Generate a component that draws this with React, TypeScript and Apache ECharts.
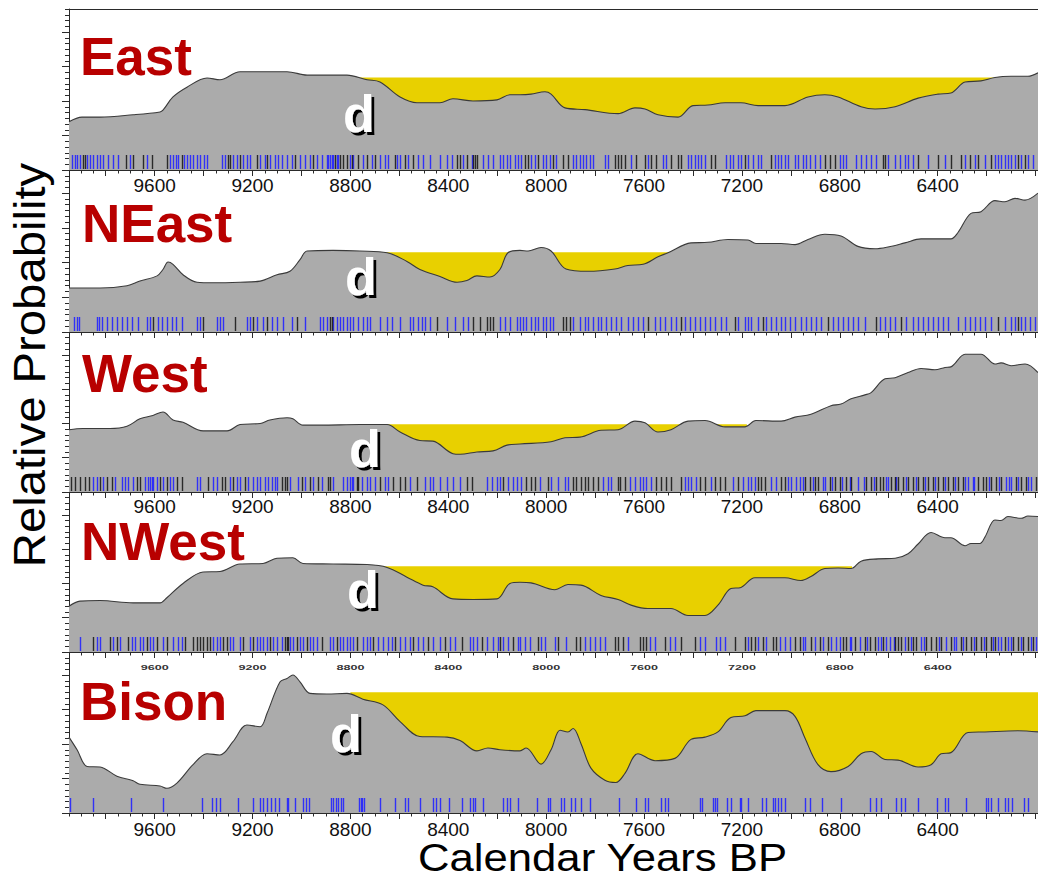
import React, { useEffect, useRef } from "react";
import * as echarts from "echarts";

const FONT = '"Liberation Sans", Arial, Helvetica, sans-serif';

// ---------- axis ranges & tick labels ----------
const YEAR_MIN = 5990;
const YEAR_MAX = 9950;
const Y_MAX = 28;
const xLabelYears = [9600, 9200, 8800, 8400, 8000, 7600, 7200, 6800, 6400];
const yMajorTicks = [0, 6, 12, 18, 24];

// ---------- panel names ----------
const panelNames = ["East", "NEast", "West", "NWest", "Bison"];

// ---------- summed probability curves [year BP, relative probability] ----------
const eastCurve = [
  [9950, 8.4], [9897, 9.2], [9823, 9.2], [9688, 9.6], [9578, 10.1], [9566, 10.4], [9525, 12.7],
  [9468, 14.4], [9386, 16.0], [9333, 15.7], [9251, 17.1], [9059, 17.1], [8977, 16.5], [8814, 16.5],
  [8732, 15.7], [8679, 15.3], [8597, 12.7], [8528, 11.7], [8434, 11.7], [8381, 12.4], [8299, 12.0],
  [8201, 12.2], [8148, 13.1], [8107, 13.1], [8062, 13.2], [8005, 13.6], [7980, 13.2], [7923, 10.8],
  [7841, 10.5], [7706, 9.8], [7637, 10.8], [7596, 10.6], [7543, 9.6], [7461, 9.2], [7400, 11.2],
  [7339, 11.3], [7269, 11.7], [7204, 11.7], [7134, 11.2], [7024, 11.2], [6930, 12.7], [6861, 13.1],
  [6807, 12.7], [6713, 11.0], [6656, 10.6], [6574, 11.0], [6480, 12.5], [6399, 13.2], [6346, 13.4],
  [6288, 15.3], [6223, 15.5], [6166, 16.1], [6100, 16.3], [6031, 16.3], [5990, 16.9],
];
const neastCurve = [
  [9950, 7.6], [9823, 7.6], [9713, 8.0], [9660, 8.8], [9590, 9.7], [9566, 10.8], [9545, 12.1],
  [9525, 11.7], [9484, 9.9], [9427, 8.6], [9362, 8.5], [9251, 8.6], [9169, 8.8], [9100, 9.9],
  [9047, 10.5], [9006, 12.5], [8977, 14.0], [8871, 14.1], [8761, 14.0], [8650, 13.7], [8569, 12.2],
  [8516, 10.8], [8434, 9.6], [8364, 8.6], [8324, 8.9], [8283, 9.7], [8230, 9.5], [8189, 10.8],
  [8156, 13.7], [8107, 14.1], [8074, 14.0], [8021, 14.6], [7980, 14.0], [7919, 10.9], [7829, 10.5],
  [7719, 10.9], [7666, 11.5], [7604, 11.7], [7543, 13.0], [7502, 13.7], [7408, 15.4], [7339, 15.5],
  [7257, 16.0], [7175, 15.9], [7143, 15.3], [7040, 15.3], [6983, 15.1], [6930, 16.0], [6861, 16.9],
  [6795, 16.6], [6726, 14.8], [6656, 14.4], [6603, 14.7], [6534, 15.4], [6468, 16.1], [6346, 16.1],
  [6317, 17.2], [6264, 20.5], [6223, 20.8], [6166, 22.7], [6125, 22.5], [6084, 23.1], [6043, 22.8],
  [5990, 24.0],
];
const westCurve = [
  [9950, 10.9], [9893, 11.1], [9782, 11.1], [9713, 11.5], [9660, 12.8], [9607, 13.4], [9566, 14.0],
  [9525, 12.6], [9484, 12.2], [9402, 10.7], [9304, 10.7], [9251, 11.8], [9169, 12.0], [9129, 12.6],
  [9059, 13.0], [9035, 12.8], [8994, 11.7], [8924, 11.7], [8761, 11.8], [8650, 11.8], [8597, 10.5],
  [8516, 9.0], [8463, 8.9], [8381, 6.7], [8352, 6.6], [8283, 7.0], [8217, 7.2], [8160, 8.2],
  [8107, 8.4], [7980, 8.8], [7923, 9.5], [7862, 9.6], [7776, 10.8], [7706, 10.9], [7637, 12.4],
  [7596, 12.1], [7543, 10.5], [7490, 10.9], [7420, 12.4], [7351, 12.5], [7269, 11.4], [7187, 11.4],
  [7143, 12.5], [7040, 12.4], [6983, 13.1], [6918, 13.6], [6836, 15.1], [6795, 15.4], [6754, 16.3],
  [6697, 17.0], [6672, 17.4], [6615, 19.8], [6574, 20.0], [6521, 20.9], [6468, 21.6], [6411, 21.4],
  [6370, 21.8], [6346, 21.9], [6288, 24.1], [6223, 24.1], [6166, 22.4], [6141, 22.6], [6100, 22.1],
  [6043, 22.4], [5990, 20.9],
];
const nwestCurve = [
  [9950, 8.0], [9905, 8.9], [9823, 9.0], [9688, 8.6], [9578, 8.6], [9550, 9.5], [9484, 12.0],
  [9402, 14.0], [9333, 14.1], [9251, 15.4], [9157, 15.5], [9100, 16.4], [9035, 16.5], [8994, 15.5],
  [8871, 15.4], [8732, 15.3], [8650, 14.8], [8569, 13.1], [8503, 11.7], [8463, 11.4], [8381, 9.3],
  [8299, 9.2], [8201, 9.3], [8148, 12.0], [8107, 12.2], [8062, 12.1], [7964, 10.9], [7911, 11.8],
  [7858, 11.7], [7776, 9.9], [7706, 9.2], [7653, 8.2], [7584, 7.6], [7490, 7.6], [7420, 6.4],
  [7351, 6.4], [7298, 8.2], [7245, 11.1], [7204, 11.3], [7147, 13.0], [7024, 13.0], [6959, 12.5],
  [6918, 13.2], [6861, 14.6], [6807, 14.7], [6754, 14.6], [6713, 15.9], [6644, 16.3], [6574, 16.4],
  [6521, 17.2], [6480, 18.9], [6427, 20.9], [6370, 20.0], [6346, 20.0], [6288, 18.6], [6264, 19.0],
  [6227, 19.0], [6207, 20.1], [6166, 23.1], [6141, 23.0], [6113, 23.7], [6059, 23.4], [6031, 23.8],
  [5990, 23.7],
];
const bisonCurve = [
  [9950, 13.2], [9917, 11.0], [9876, 8.1], [9823, 8.0], [9754, 6.4], [9688, 5.6], [9660, 5.0],
  [9578, 4.7], [9550, 4.3], [9509, 5.2], [9443, 8.4], [9386, 10.3], [9333, 10.1], [9280, 12.4],
  [9223, 15.3], [9169, 15.0], [9141, 17.3], [9088, 22.8], [9059, 23.4], [9035, 24.0], [9006, 22.8],
  [8965, 20.8], [8896, 20.7], [8814, 20.8], [8749, 19.8], [8667, 18.8], [8597, 15.9], [8516, 13.3],
  [8405, 13.2], [8352, 12.6], [8283, 10.8], [8238, 11.3], [8189, 11.0], [8107, 10.8], [8082, 11.3],
  [8021, 8.5], [7980, 11.0], [7943, 14.4], [7911, 14.1], [7890, 14.7], [7858, 12.1], [7817, 7.8],
  [7760, 5.7], [7715, 5.3], [7678, 6.9], [7625, 10.3], [7555, 9.1], [7474, 9.5], [7408, 12.8],
  [7351, 13.2], [7298, 14.1], [7245, 16.6], [7187, 16.9], [7143, 17.8], [7024, 17.8], [6983, 16.8],
  [6942, 13.0], [6889, 8.4], [6836, 7.2], [6766, 8.1], [6713, 10.3], [6672, 10.7], [6615, 9.3],
  [6562, 9.2], [6480, 8.0], [6427, 8.4], [6386, 10.3], [6346, 10.5], [6276, 14.0], [6207, 14.1],
  [6072, 14.3], [5990, 14.1],
];

// ---------- deficit ("d") reference levels and their year spans ----------
const deficitLevels = [16.1, 13.8, 11.85, 15.0, 21.0];
const deficitSpans = [
  [8800, 6170],
  [8660, 7490],
  [8660, 7180],
  [8700, 6750],
  [8800, 5990],
];

// ---------- rug of dated samples (years BP) ----------
const eastRugBlack = [9894, 9885, 9717, 9687, 9649, 9612, 9551, 9490, 9299, 9292, 9251, 9183, 9142, 9027, 8952, 8863, 8843, 8829, 8815, 8795, 8768, 8734, 8700, 8618, 8577, 8543, 8366, 8352, 8325, 8298, 8291, 8284, 8088, 8074, 8033, 7972, 7931, 7911, 7720, 7706, 7693, 7679, 7631, 7597, 7570, 7550, 7488, 7461, 7448, 7325, 7311, 7189, 7080, 6862, 6841, 6821, 6623, 6617, 6480, 6399, 6344, 6303, 6269, 6235, 6181, 6072, 6044];
const eastRugBlue = [9939, 9926, 9916, 9905, 9875, 9864, 9851, 9837, 9823, 9810, 9789, 9769, 9748, 9701, 9633, 9537, 9524, 9513, 9503, 9480, 9469, 9456, 9442, 9428, 9415, 9398, 9387, 9326, 9313, 9279, 9265, 9238, 9224, 9210, 9170, 9149, 9129, 9108, 9095, 9081, 9061, 9040, 9006, 8986, 8965, 8938, 8917, 8897, 8890, 8883, 8877, 8870, 8856, 8849, 8802, 8788, 8747, 8713, 8679, 8659, 8645, 8611, 8597, 8563, 8523, 8502, 8475, 8434, 8407, 8386, 8339, 8305, 8257, 8236, 8216, 8189, 8175, 8162, 8148, 8127, 8114, 8101, 8060, 8047, 8013, 7999, 7986, 7958, 7890, 7877, 7863, 7849, 7836, 7822, 7808, 7761, 7747, 7652, 7584, 7522, 7509, 7420, 7407, 7393, 7379, 7366, 7352, 7264, 7250, 7236, 7216, 7202, 7175, 7155, 7134, 7121, 7066, 7052, 7039, 7025, 7012, 6984, 6971, 6950, 6937, 6923, 6903, 6882, 6800, 6787, 6773, 6732, 6712, 6692, 6671, 6651, 6603, 6576, 6555, 6535, 6521, 6501, 6439, 6371, 6290, 6249, 6208, 6167, 6153, 6140, 6126, 6112, 6099, 6085, 6058, 6031, 6010];

const neastRugBlack = [9605, 9401, 9272, 9197, 9142, 9020, 8883, 8877, 8448, 8298, 8270, 8243, 8230, 8216, 7931, 7917, 7904, 7584, 7448, 7230, 7114, 6848, 6651, 6548, 6153, 6072];
const neastRugBlue = [9930, 9919, 9908, 9837, 9826, 9817, 9796, 9776, 9755, 9735, 9714, 9694, 9667, 9633, 9619, 9585, 9571, 9551, 9531, 9513, 9490, 9428, 9415, 9347, 9333, 9319, 9224, 9210, 9183, 9156, 9122, 9101, 9074, 9040, 8986, 8924, 8911, 8897, 8870, 8856, 8843, 8829, 8815, 8802, 8788, 8768, 8747, 8734, 8720, 8679, 8652, 8631, 8597, 8556, 8543, 8523, 8509, 8495, 8475, 8407, 8373, 8339, 8318, 8189, 8168, 8148, 8121, 8108, 8095, 8081, 8061, 8047, 8033, 8013, 7999, 7986, 7972, 7890, 7863, 7843, 7829, 7808, 7788, 7774, 7754, 7734, 7713, 7693, 7665, 7645, 7625, 7604, 7557, 7536, 7516, 7488, 7468, 7434, 7413, 7393, 7373, 7352, 7332, 7311, 7284, 7264, 7216, 7189, 7175, 7161, 7134, 7100, 7080, 7059, 7039, 7025, 7005, 6984, 6957, 6937, 6916, 6896, 6875, 6828, 6807, 6787, 6766, 6746, 6726, 6698, 6637, 6617, 6596, 6576, 6528, 6501, 6480, 6460, 6439, 6419, 6399, 6378, 6358, 6317, 6290, 6269, 6249, 6228, 6208, 6181, 6126, 6099, 6085, 6058, 6044, 6024, 6004];

const westRugBlack = [9943, 9926, 9905, 9885, 9867, 9823, 9796, 9776, 9674, 9660, 9578, 9551, 9510, 9490, 9381, 9326, 9313, 9279, 9231, 9081, 9067, 9061, 8999, 8965, 8931, 8890, 8883, 8774, 8768, 8679, 8625, 8597, 8577, 8529, 8325, 8305, 8175, 8081, 8061, 8047, 7992, 7890, 7877, 7856, 7843, 7829, 7808, 7788, 7706, 7700, 7679, 7550, 7529, 7509, 7488, 7448, 7373, 7352, 7311, 7291, 7270, 7216, 7134, 7121, 7107, 7039, 7025, 6944, 6923, 6903, 6889, 6841, 6821, 6800, 6773, 6753, 6692, 6671, 6651, 6637, 6623, 6589, 6576, 6562, 6542, 6521, 6501, 6480, 6460, 6439, 6419, 6399, 6378, 6358, 6337, 6317, 6297, 6235, 6215, 6201, 6181, 6160, 6140, 6079, 6058, 6038, 5997];
const westRugBlue = [9851, 9837, 9810, 9762, 9735, 9721, 9708, 9687, 9639, 9626, 9619, 9612, 9605, 9592, 9565, 9537, 9524, 9428, 9415, 9360, 9347, 9292, 9265, 9251, 9217, 9197, 9183, 9170, 9149, 9136, 9122, 9108, 9101, 9047, 9013, 8986, 8952, 8917, 8870, 8829, 8815, 8802, 8795, 8788, 8754, 8734, 8720, 8700, 8659, 8645, 8556, 8495, 8475, 8461, 8434, 8407, 8379, 8352, 8243, 8223, 8202, 8189, 8155, 8134, 8121, 8101, 8026, 7979, 7952, 7924, 7911, 7768, 7747, 7734, 7659, 7638, 7618, 7604, 7591, 7570, 7434, 7420, 7407, 7386, 7325, 7236, 7196, 7175, 7161, 7148, 7080, 7059, 7012, 6998, 6978, 6964, 6950, 6910, 6869, 6860, 6830, 6790, 6760, 6726, 6700, 6660, 6610, 6603, 6570, 6530, 6490, 6450, 6410, 6370, 6330, 6290, 6276, 6256, 6250, 6190, 6150, 6119, 6110, 6099, 6070, 6030, 6017];

const nwestRugBlack = [9851, 9783, 9755, 9708, 9633, 9592, 9551, 9476, 9442, 9428, 9415, 9401, 9387, 9374, 9319, 9306, 9238, 9197, 9129, 9067, 9061, 9054, 9020, 8979, 8917, 8856, 8774, 8706, 8618, 8543, 8482, 8413, 8345, 8264, 8189, 8134, 8033, 7952, 7877, 7863, 7720, 7706, 7686, 7618, 7604, 7591, 7516, 7448, 7393, 7230, 7189, 7161, 7148, 7114, 7073, 7059, 6984, 6964, 6916, 6882, 6848, 6787, 6773, 6739, 6698, 6678, 6657, 6623, 6576, 6562, 6548, 6521, 6501, 6487, 6446, 6426, 6405, 6385, 6344, 6303, 6283, 6262, 6242, 6222, 6201, 6181, 6167, 6126, 6092, 6072, 6051, 6031, 6010];
const nwestRugBlue = [9905, 9837, 9823, 9769, 9742, 9694, 9680, 9660, 9646, 9619, 9605, 9565, 9524, 9503, 9490, 9360, 9347, 9333, 9292, 9279, 9251, 9210, 9183, 9170, 9156, 9142, 9115, 9101, 9081, 9047, 9033, 9006, 8992, 8965, 8952, 8938, 8883, 8870, 8843, 8829, 8815, 8802, 8788, 8747, 8734, 8720, 8686, 8665, 8645, 8631, 8597, 8577, 8556, 8523, 8502, 8461, 8434, 8393, 8373, 8311, 8298, 8284, 8243, 8216, 8196, 8175, 8155, 8114, 8108, 8088, 8067, 8020, 8006, 7965, 7917, 7843, 7822, 7802, 7781, 7761, 7665, 7577, 7557, 7495, 7475, 7373, 7352, 7305, 7291, 7270, 7175, 7134, 7100, 7046, 7025, 7005, 6950, 6944, 6900, 6869, 6835, 6814, 6800, 6760, 6753, 6719, 6690, 6644, 6630, 6610, 6596, 6580, 6535, 6510, 6467, 6455, 6395, 6365, 6335, 6324, 6295, 6250, 6210, 6175, 6153, 6140, 6112, 6100, 6060, 6020, 5997];

const bisonRugBlack: number[] = [];
const bisonRugBlue = [9946, 9851, 9698, 9567, 9405, 9364, 9349, 9333, 9258, 9199, 9170, 9156, 9142, 9126, 9108, 9091, 9061, 9054, 9027, 8992, 8982, 8968, 8881, 8870, 8859, 8849, 8840, 8829, 8764, 8758, 8753, 8745, 8679, 8618, 8577, 8563, 8516, 8464, 8450, 8434, 8396, 8345, 8311, 8300, 8291, 8260, 8175, 8162, 8148, 8114, 8036, 7992, 7983, 7938, 7928, 7897, 7881, 7859, 7822, 7702, 7631, 7597, 7584, 7532, 7516, 7502, 7373, 7363, 7318, 7309, 7300, 7260, 7243, 7209, 7202, 7175, 7117, 7100, 7073, 7063, 7052, 7039, 7025, 6941, 6923, 6873, 6794, 6678, 6651, 6633, 6569, 6548, 6535, 6480, 6401, 6371, 6358, 6283, 6201, 6194, 6183, 6153, 6124, 6113, 6096, 6047, 6031];

const curves = [eastCurve, neastCurve, westCurve, nwestCurve, bisonCurve];
const rugsBlue = [eastRugBlue, neastRugBlue, westRugBlue, nwestRugBlue, bisonRugBlue];
const rugsBlack = [eastRugBlack, neastRugBlack, westRugBlack, nwestRugBlack, bisonRugBlack];

// ---------- layout & style (not data) ----------
const PLOT_LEFT = 69;
const PLOT_WIDTH = 969;
const panelTops = [9, 170, 332, 492, 652];
const panelHeights = [161, 162, 160, 160, 161];
const labelModes = ["large", "none", "large", "small", "large"];
const labelMargins = [6, 0, 5, 0, 7];
const titlePos = [[80, 75], [82, 242], [82, 392], [81, 560], [80, 720]];
const dPos = [[343, 132], [345, 295], [349, 467], [347, 608], [330, 752]];

const GRAY = "#ababab";
const CURVE = "#3a3a3a";
const YELLOW = "#e8d000";
const RED = "#b80000";
const AXIS = "#2a2a2a";
const RUG_BLUE = "rgba(35,35,255,0.9)";
const RUG_BLACK = "rgba(10,10,10,0.8)";

function buildOption() {
  const minorTicks: number[] = [];
  for (let y = 9950; y >= 6000; y -= 50) minorTicks.push(y);
  const majorTicks: number[] = [];
  for (let y = 9800; y >= 6000; y -= 200) majorTicks.push(y);
  const yMinorTicks: number[] = [];
  for (let v = 0; v <= Y_MAX; v += 1) yMinorTicks.push(v);

  const grid = panelTops.map((t, i) => ({
    left: PLOT_LEFT,
    top: t,
    width: PLOT_WIDTH,
    height: panelHeights[i],
    containLabel: false,
  }));

  const xAxis: any[] = [];
  const yAxis: any[] = [];
  const series: any[] = [];

  panelTops.forEach((_, i) => {
    const mode = labelModes[i];
    xAxis.push({
      type: "value",
      gridIndex: i,
      inverse: true,
      min: YEAR_MIN,
      max: YEAR_MAX,
      position: "bottom",
      axisLine: { show: true, onZero: false, lineStyle: { color: AXIS, width: 1 } },
      axisTick: { show: true, inside: false, length: 6, customValues: majorTicks, lineStyle: { color: AXIS, width: 1 } },
      axisLabel: {
        show: mode === "large",
        customValues: xLabelYears,
        formatter: (v: number) => String(v),
        fontSize: 19,
        lineHeight: 16,
        color: "#111",
        fontFamily: FONT,
        margin: labelMargins[i] + 1,
      },
      splitLine: { show: false },
    });
    xAxis.push({
      type: "value",
      gridIndex: i,
      inverse: true,
      min: YEAR_MIN,
      max: YEAR_MAX,
      position: "bottom",
      axisLine: { show: false, onZero: false },
      axisTick: { show: true, inside: false, length: 3.5, customValues: minorTicks, lineStyle: { color: AXIS, width: 1 } },
      axisLabel: { show: false },
      splitLine: { show: false },
    });
    yAxis.push({
      type: "value",
      gridIndex: i,
      min: 0,
      max: Y_MAX,
      position: "left",
      axisLine: { show: true, onZero: false, lineStyle: { color: AXIS, width: 1 } },
      axisTick: { show: true, inside: false, length: 7, customValues: yMajorTicks, lineStyle: { color: AXIS, width: 1 } },
      axisLabel: { show: false },
      splitLine: { show: false },
    });
    yAxis.push({
      type: "value",
      gridIndex: i,
      min: 0,
      max: Y_MAX,
      position: "left",
      axisLine: { show: false, onZero: false },
      axisTick: { show: true, inside: false, length: 4, customValues: yMinorTicks, lineStyle: { color: AXIS, width: 1 } },
      axisLabel: { show: false },
      splitLine: { show: false },
    });

    const xi = 2 * i;
    const level = deficitLevels[i];
    const span = deficitSpans[i];
    series.push({
      type: "line",
      name: panelNames[i] + " deficit",
      xAxisIndex: xi,
      yAxisIndex: xi,
      data: [[span[0], level], [span[1], level]],
      symbol: "none",
      lineStyle: { width: 0, opacity: 0 },
      areaStyle: { color: YELLOW, opacity: 1 },
      z: 1,
      silent: true,
    });
    series.push({
      type: "line",
      name: panelNames[i],
      xAxisIndex: xi,
      yAxisIndex: xi,
      data: curves[i],
      smooth: 0.35,
      symbol: "none",
      lineStyle: { color: CURVE, width: 1.1 },
      areaStyle: { color: GRAY, opacity: 1 },
      z: 2,
      silent: true,
    });
    const rug = (years: number[], color: string, z: number) => ({
      type: "custom",
      xAxisIndex: xi,
      yAxisIndex: xi,
      data: years.map((y) => [y, 0]),
      encode: { x: 0, y: 1 },
      silent: true,
      z,
      renderItem: (params: any, api: any) => {
        const p = api.coord([api.value(0), 0]);
        const x = Math.round(p[0]) + 0.5;
        return {
          type: "line",
          shape: { x1: x, y1: p[1] - 1, x2: x, y2: p[1] - 15 },
          style: { stroke: color, lineWidth: 1.4 },
        };
      },
    });
    series.push(rug(rugsBlue[i], RUG_BLUE, 3));
    if (rugsBlack[i].length) series.push(rug(rugsBlack[i], RUG_BLACK, 4));

    if (mode === "small") {
      series.push({
        type: "custom",
        xAxisIndex: xi,
        yAxisIndex: xi,
        data: xLabelYears.map((y) => [y, 0]),
        encode: { x: 0, y: 1 },
        clip: false,
        silent: true,
        z: 6,
        renderItem: (params: any, api: any) => {
          const p = api.coord([api.value(0), 0]);
          return {
            type: "text",
            x: p[0],
            y: p[1] + 16,
            scaleX: 1.05,
            scaleY: 0.6,
            style: {
              text: String(api.value(0)),
              fontSize: 12,
              fontWeight: "bold",
              fontFamily: FONT,
              fill: "#333",
              align: "center",
              verticalAlign: "middle",
            },
          };
        },
      });
    }
  });

  // top border of the first panel
  xAxis.push({
    type: "value",
    gridIndex: 0,
    inverse: true,
    min: YEAR_MIN,
    max: YEAR_MAX,
    position: "top",
    axisLine: { show: true, onZero: false, lineStyle: { color: AXIS, width: 1 } },
    axisTick: { show: false },
    axisLabel: { show: false },
    splitLine: { show: false },
  });

  const graphic: any[] = [];
  panelNames.forEach((name, i) => {
    graphic.push({
      type: "text",
      x: titlePos[i][0],
      y: titlePos[i][1] - 18.4,
      z: 100,
      style: { text: name, fill: RED, fontSize: 53, lineHeight: 42, fontWeight: "bold", fontFamily: FONT, align: "left", verticalAlign: "middle" },
    });
    graphic.push({
      type: "text",
      x: dPos[i][0],
      y: dPos[i][1] - 18,
      z: 101,
      style: {
        text: "d",
        fill: "#fff",
        fontSize: 52,
        lineHeight: 42,
        fontWeight: "bold",
        fontFamily: FONT,
        align: "left",
        verticalAlign: "middle",
        textShadowColor: "#000",
        textShadowBlur: 0.5,
        textShadowOffsetX: 3,
        textShadowOffsetY: 3,
      },
    });
  });
  graphic.push({
    type: "text",
    x: 29.5,
    y: 365,
    rotation: Math.PI / 2,
    scaleX: 1.05,
    z: 100,
    style: { text: "Relative Probability", fill: "#000", fontSize: 45, fontFamily: FONT, align: "center", verticalAlign: "middle" },
  });
  graphic.push({
    type: "text",
    x: 602.5,
    y: 858,
    scaleX: 1.15,
    z: 100,
    style: { text: "Calendar Years BP", fill: "#000", fontSize: 38, lineHeight: 34, fontFamily: FONT, align: "center", verticalAlign: "middle" },
  });

  return {
    animation: false,
    backgroundColor: "#ffffff",
    textStyle: { fontFamily: FONT },
    grid,
    xAxis,
    yAxis,
    series,
    graphic: { elements: graphic },
  };
}

export default function App() {
  const ref = useRef<HTMLDivElement>(null);
  useEffect(() => {
    if (!ref.current) return;
    const chart = echarts.init(ref.current, undefined, { renderer: "svg" });
    chart.setOption(buildOption() as any);
    return () => chart.dispose();
  }, []);
  return (
    <div
      ref={ref}
      style={{ position: "fixed", left: 0, top: 0, width: 1038, height: 879, background: "#fff" }}
    />
  );
}
